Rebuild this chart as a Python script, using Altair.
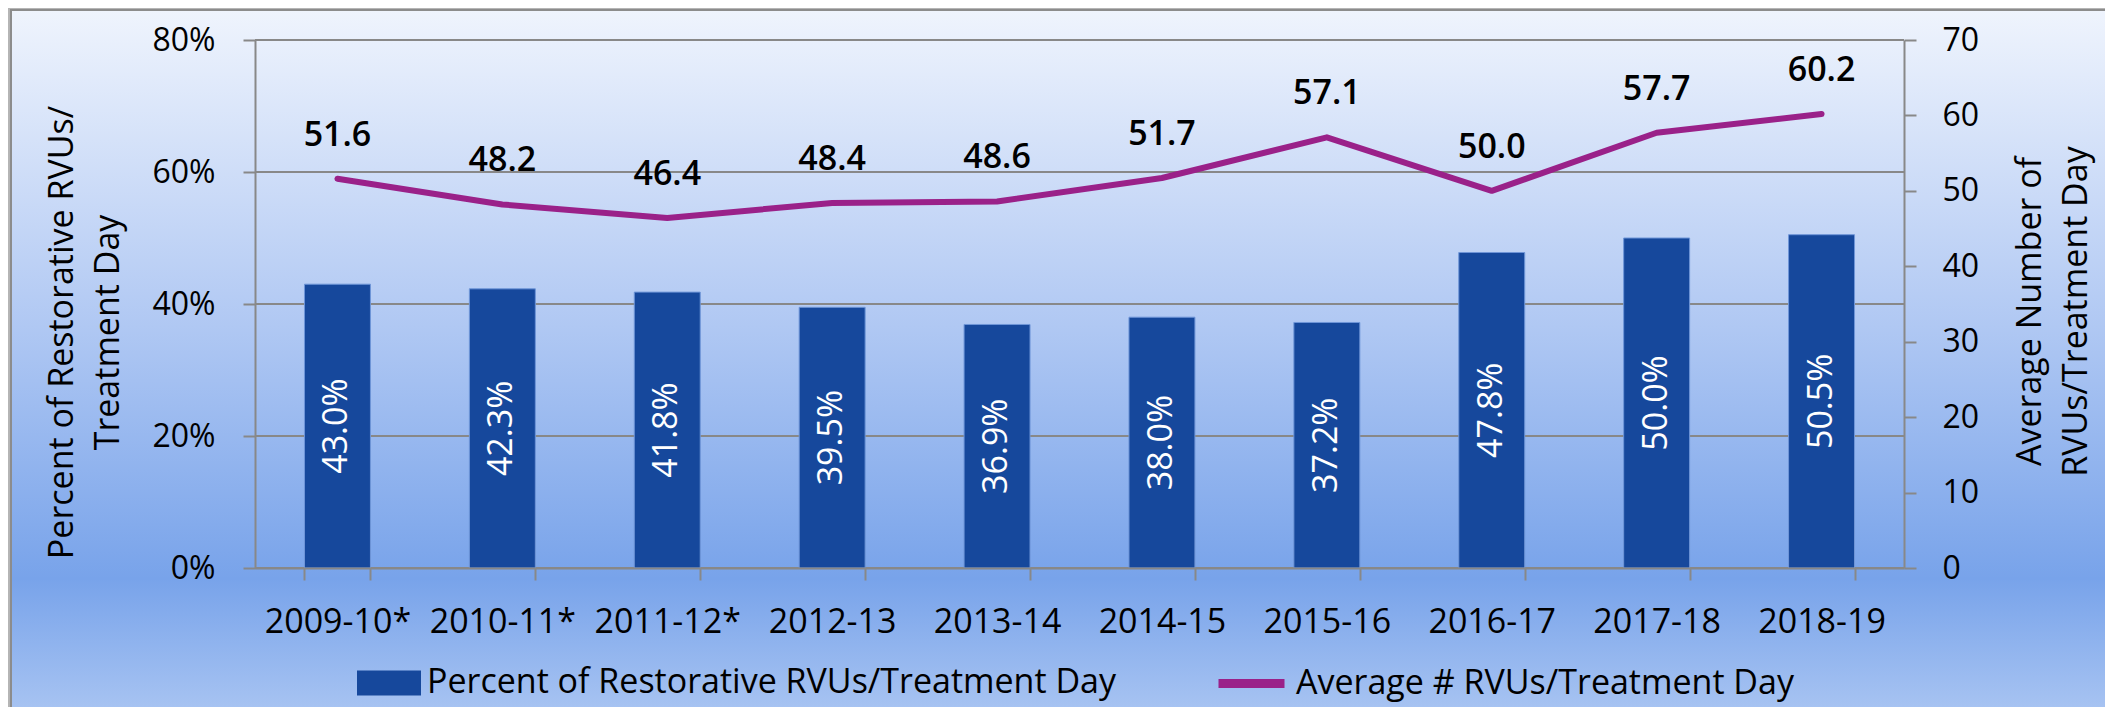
import altair as alt
import pandas as pd

# ---------------- data ----------------
years = ["2009-10*", "2010-11*", "2011-12*", "2012-13", "2013-14",
         "2014-15", "2015-16", "2016-17", "2017-18", "2018-19"]
pct_restorative = [43.0, 42.3, 41.8, 39.5, 36.9, 38.0, 37.2, 47.8, 50.0, 50.5]
avg_rvus = [51.6, 48.2, 46.4, 48.4, 48.6, 51.7, 57.1, 50.0, 57.7, 60.2]
bar_series = "Percent of Restorative RVUs/Treatment Day"
line_series = "Average # RVUs/Treatment Day"
left_ticks = [0, 20, 40, 60, 80]
right_ticks = [0, 10, 20, 30, 40, 50, 60, 70]
left_title = ["Percent of Restorative RVUs/", "Treatment Day"]
right_title = ["Average Number of", "RVUs/Treatment Day"]

df = pd.DataFrame({"year": years, "pct": pct_restorative, "avg": avg_rvus,
                   "s1": bar_series, "s2": line_series})
df["half"] = df["pct"] / 2
grid_df = pd.DataFrame({"pct": left_ticks})

# ---------------- layout / style ----------------
W, H = 1649, 528
PAD = {"left": 247, "top": 32, "right": 201, "bottom": 139}
FONT = "Open Sans"
BAR = "#16489c"
LINE = "#9a2189"
GRID = "#888888"

left_scale = alt.Scale(domain=[0, 80], nice=False, zero=True)
right_scale = alt.Scale(domain=[0, 70], nice=False, zero=True)

left_axis = alt.Axis(values=left_ticks, labelExpr="datum.value + '%'",
                     title=left_title, grid=False, tickSize=12, labelPadding=28,
                     labelFontSize=32, domainColor=GRID, tickColor=GRID,
                     domainWidth=2, tickWidth=2, titleAngle=270, titleX=-193,
                     titleY=292, titleAlign="center", titleBaseline="middle",
                     titleFontSize=34, titleLineHeight=46, zindex=1)
right_axis = alt.Axis(orient="right", values=right_ticks, title=right_title, grid=False,
                      tickSize=12, labelPadding=26, labelFontSize=32,
                      domainColor=GRID, tickColor=GRID, domainWidth=2, tickWidth=2,
                      titleAngle=270, titleX=126, titleY=271, titleAlign="center",
                      titleBaseline="middle", titleFontSize=34, titleLineHeight=46,
                      zindex=1)

x_enc = alt.X(
    "year:N", sort=years,
    scale=alt.Scale(paddingInner=0.6, paddingOuter=0.3),
    axis=alt.Axis(title=None, labelAngle=0, labelFontSize=34, labelPadding=25,
                  tickSize=12, tickBand="extent", domainColor=GRID, tickColor=GRID,
                  domainWidth=2, tickWidth=2, grid=False, zindex=1),
)

bg = alt.Chart(pd.DataFrame({"k": [0]})).mark_rect(
    fill={"gradient": "linear", "x1": 0, "y1": 0, "x2": 0, "y2": 1,
          "stops": [{"offset": 0, "color": "#eff4fd"},
                    {"offset": 0.45, "color": "#b0c8f3"},
                    {"offset": 0.81, "color": "#78a3ea"},
                    {"offset": 1, "color": "#a8c4f2"}]},
    stroke="#8c8c8c", strokeWidth=2,
).encode(
    x=alt.value(-PAD["left"] + 3), x2=alt.value(W + PAD["right"] + 5),
    y=alt.value(-PAD["top"] + 2), y2=alt.value(H + PAD["bottom"] + 5),
)

grid = alt.Chart(grid_df).mark_rule(color=GRID, strokeWidth=2).encode(
    y=alt.Y("pct:Q", scale=left_scale, axis=left_axis)
)

bars = alt.Chart(df).mark_bar(stroke="#6f96d8", strokeWidth=1).encode(
    x=x_enc,
    y=alt.Y("pct:Q", scale=left_scale, axis=left_axis),
    fill=alt.Fill("s1:N", scale=alt.Scale(domain=[bar_series], range=[BAR]),
                  legend=alt.Legend(orient="none", legendX=102, legendY=611, title=None,
                                    symbolType="M-1,-0.39H1V0.39H-1Z", symbolSize=4096,
                                    symbolStrokeWidth=0, labelFontSize=34, labelOffset=6,
                                    labelLimit=0, padding=0)),
)

bar_labels = alt.Chart(df).transform_calculate(
    lab="format(datum.pct, '.1f') + '%'"
).mark_text(angle=270, color="white", fontSize=34, font=FONT,
            align="center", baseline="middle").encode(
    x=x_enc,
    y=alt.Y("half:Q", scale=left_scale, axis=left_axis),
    text="lab:N",
)

line = alt.Chart(df).mark_line(strokeWidth=6, strokeCap="round", strokeJoin="round").encode(
    x=x_enc,
    y=alt.Y("avg:Q", scale=right_scale, axis=right_axis),
    stroke=alt.Stroke("s2:N", scale=alt.Scale(domain=[line_series], range=[LINE]),
                      legend=alt.Legend(orient="none", legendX=959, legendY=606, title=None,
                                        symbolType="M-1,0H1", symbolSize=4356,
                                        symbolStrokeWidth=9, labelFontSize=34, labelOffset=7,
                                        labelLimit=0, padding=0)),
)

line_labels = alt.Chart(df).mark_text(dy=-43, fontSize=34, fontWeight=600, font=FONT,
                                      color="black", align="center",
                                      baseline="middle").encode(
    x=x_enc,
    y=alt.Y("avg:Q", scale=right_scale, axis=right_axis),
    text=alt.Text("avg:Q", format=".1f"),
)

left = alt.layer(grid, bars, bar_labels)
right = alt.layer(line, line_labels)

chart = alt.layer(bg, left, right).resolve_scale(y="independent").properties(
    width=W, height=H, padding=PAD,
    autosize=alt.AutoSizeParams(type="none"),
    background="#b5b5b5",
).configure_axis(
    labelFont=FONT, titleFont=FONT, labelColor="black", titleColor="black",
    titleFontWeight="normal",
).configure_legend(
    labelFont=FONT, labelColor="black",
).configure_view(stroke=None)

chart.save("out.html", embed_options={"renderer": "svg", "actions": False})
